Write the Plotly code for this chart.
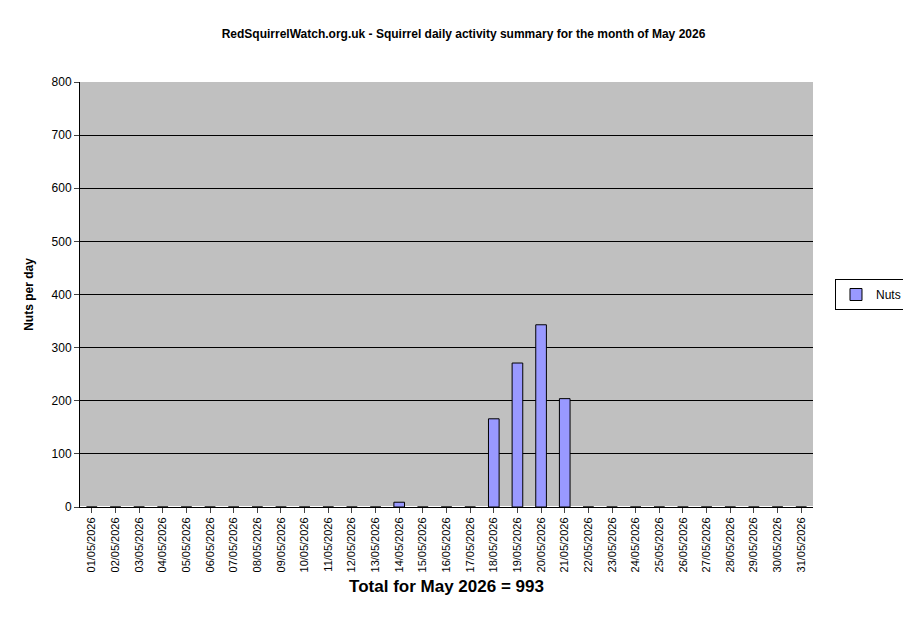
import plotly.graph_objects as go

days = [f"{d:02d}/05/2026" for d in range(1, 32)]
nuts = [0]*31
nuts[13] = 9
nuts[17] = 166
nuts[18] = 271
nuts[19] = 343
nuts[20] = 204

fig = go.Figure()
fig.add_trace(go.Bar(x=days, y=nuts, name="Nuts", width=0.45,
                     marker=dict(color="#9999FF", line=dict(color="black", width=1))))

fig.update_layout(
    width=911, height=623,
    paper_bgcolor="white", plot_bgcolor="#C0C0C0",
    font=dict(family="Arial, Liberation Sans", size=12, color="black"),
    title=dict(text="<b>RedSquirrelWatch.org.uk - Squirrel daily activity summary for the month of May 2026</b>",
               x=0.5, xanchor="center", y=0.965, font=dict(size=12)),
    margin=dict(l=72, r=79, t=74, b=124),
    showlegend=True,
    legend=dict(x=1.03, y=0.5, yanchor="middle", bordercolor="black", borderwidth=1,
                bgcolor="white", font=dict(size=12)),
    bargap=0.55,
)
fig.update_xaxes(tickangle=-90, showline=True, linecolor="black", ticks="outside",
                 tickfont=dict(size=11), mirror=False,
                 title=dict(text="<b>Total for May 2026 = 993</b>", font=dict(size=17), standoff=8))
fig.update_yaxes(range=[0, 800], dtick=100, showgrid=True, gridcolor="black",
                 showline=True, linecolor="black", ticks="outside",
                 title=dict(text="<b>Nuts per day</b>", font=dict(size=12)))
fig.write_html("out.html")
